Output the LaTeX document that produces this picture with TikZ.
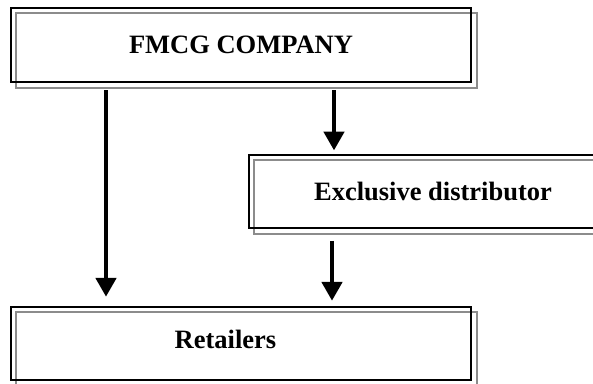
\documentclass[tikz,border=0pt]{standalone}
\usepackage{fontspec}
\setmainfont{Liberation Serif}
\usetikzlibrary{arrows.meta,calc}

\begin{document}
\begin{tikzpicture}[x=1pt,y=1pt,yscale=-1,
		frame/.style={rectangle,inner sep=0pt,minimum height=74pt,font=\fontsize{26.5}{30}\bfseries\selectfont},
		shade/.style={draw=black!45,line width=2pt},
		rim/.style={draw=black,line width=2pt},
		flow/.style={line width=4.8pt,-{Triangle[width=20pt,length=19pt]}}]
			\useasboundingbox (0,0) rectangle (593,383);
			\clip (0,0) rectangle (593,383);
			
			% boxes
			\node[frame,minimum width=460pt] (fmcg) at (241,45) {FMCG COMPANY};
			\node[frame,minimum width=368pt,minimum height=73pt] (excl) at (433,191.5) {Exclusive distributor};
			\node[frame,minimum width=460pt,minimum height=73pt,label={[font=\fontsize{26.5}{30}\bfseries\selectfont,xshift=-15.5pt,yshift=4.5pt]center:Retailers}] (ret) at (241,343.5) {};
			
			% grey frame down and right, black frame on top
			\foreach \n in {fmcg,excl,ret}
				\draw[shade] ($(\n.north west)+(5.5,5.5)$) rectangle ($(\n.south east)+(5.5,5.5)$);
			\foreach \n in {fmcg,excl,ret}
				\draw[rim] (\n.north west) rectangle (\n.south east);
			
			% arrows
			\coordinate (xl) at (106,0);
			\coordinate (xu) at (334,0);
			\coordinate (xd) at (332,0);
			\draw[flow,shorten <=8pt,shorten >=10pt] (fmcg.south -| xl) -- (ret.north -| xl);
			\draw[flow,shorten <=8pt,shorten >=4.3pt] (fmcg.south -| xu) -- (excl.north -| xu);
			\draw[flow,shorten <=12.7pt,shorten >=6pt] (excl.south -| xd) -- (ret.north -| xd);
\end{tikzpicture}
\end{document}
